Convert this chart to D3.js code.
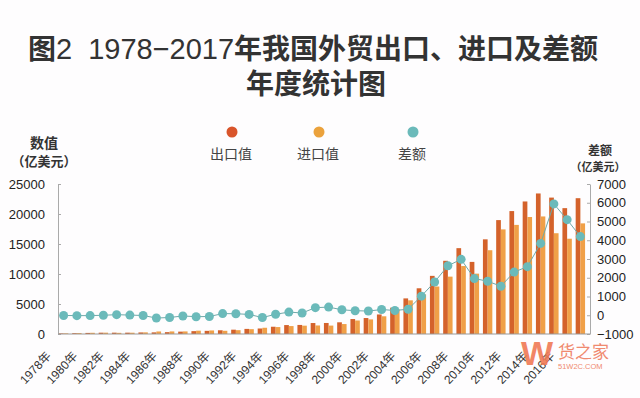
<!DOCTYPE html>
<html>
<head>
<meta charset="utf-8">
<script src="https://cdn.jsdelivr.net/npm/d3@7"></script>
<style>
  body { margin: 0; background: #fff; }
  svg { display: block; }
</style>
</head>
<body>
<svg id="chart"></svg>
<script>
// years shown on the x axis
const years = [1978, 1979, 1980, 1981, 1982, 1983, 1984, 1985, 1986, 1987,
  1988, 1989, 1990, 1991, 1992, 1993, 1994, 1995, 1996, 1997,
  1998, 1999, 2000, 2001, 2002, 2003, 2004, 2005, 2006, 2007,
  2008, 2009, 2010, 2011, 2012, 2013, 2014, 2015, 2016, 2017]

// 出口值 (亿美元)
const exportValues = [97.5, 136.6, 181.2, 220.1, 223.2, 222.3, 261.4, 273.5, 309.4, 394.4,
  475.2, 525.4, 620.9, 719.1, 849.4, 917.4, 1210.1, 1487.8, 1510.5, 1827.9,
  1837.1, 1949.3, 2492.0, 2661.0, 3256.0, 4382.3, 5933.3, 7619.5, 9689.8, 12200.6,
  14306.9, 12016.1, 15777.5, 18983.8, 20487.1, 22090.0, 23422.9, 22734.7, 20976.3, 22633.7]

// 进口值 (亿美元)
const importValues = [108.9, 156.7, 200.2, 220.2, 192.9, 213.9, 274.1, 422.5, 429.0, 432.2,
  552.7, 591.4, 533.5, 637.9, 805.9, 1039.6, 1156.1, 1320.8, 1388.3, 1423.7,
  1402.4, 1657.0, 2250.9, 2435.5, 2951.7, 4127.6, 5612.3, 6599.5, 7914.6, 9561.2,
  11325.6, 10059.2, 13962.4, 17434.8, 18184.1, 19499.9, 19592.4, 16795.6, 15879.3, 18437.9]

// 差额 (亿美元)
const balanceValues = [-11.4, -20.1, -19.0, -0.1, 30.4, 8.4, -12.7, -149.0, -119.6, -37.8,
  -77.5, -66.0, 87.4, 81.2, 43.5, -122.2, 54.0, 167.0, 122.2, 404.2,
  434.8, 292.3, 241.1, 225.5, 304.3, 254.7, 321.0, 1020.0, 1775.2, 2639.4,
  2981.3, 1956.9, 1815.1, 1549.0, 2303.1, 2590.1, 3830.6, 5939.0, 5097.1, 4195.8]

const leftTicks = [0, 5000, 10000, 15000, 20000, 25000]
const rightTicks = [-1000, 0, 1000, 2000, 3000, 4000, 5000, 6000, 7000]
const labelYears = [1978, 1980, 1982, 1984, 1986, 1988, 1990, 1992, 1994, 1996,
  1998, 2000, 2002, 2004, 2006, 2008, 2010, 2012, 2014, 2016]

const seriesNames = ['出口值', '进口值', '差额']

const WIDTH = 640
const HEIGHT = 398
const COLOR_EXPORT = '#d4622b'
const COLOR_IMPORT = '#f0a048'
const COLOR_BALANCE = '#6bbaba'
const CN_FONT = '"Liberation Sans", "Noto Sans CJK SC", sans-serif'

const svg = d3.select('#chart')
  .attr('width', WIDTH)
  .attr('height', HEIGHT)
  .style('font-family', CN_FONT)

svg.append('rect')
  .attr('width', WIDTH)
  .attr('height', HEIGHT)
  .attr('fill', '#fefdfe')

// Title - latin digits are lighter than the CJK glyphs in the reference
const title = svg.append('g')
  .attr('font-family', '"Noto Sans CJK SC", sans-serif')
  .attr('font-weight', 'bold')
  .attr('font-size', 28)
  .attr('fill', '#333')
  .attr('text-anchor', 'middle')
const line1 = title.append('text').attr('x', 313).attr('y', 59)
line1.append('tspan').text('图')
line1.append('tspan')
  .attr('font-family', '"Liberation Sans", Arial, sans-serif')
  .attr('font-weight', 'normal')
  .attr('font-size', 29)
  .text('2\u00a0\u00a01978−2017')
line1.append('tspan').text('年我国外贸出口、进口及差额')
title.append('text').attr('x', 316).attr('y', 94).text('年度统计图')

// Scales
const x = d3.scaleBand()
  .domain(years)
  .range([57, 587])

const yLeft = d3.scaleLinear()
  .domain([0, 25000])
  .range([334, 184])

const yRight = d3.scaleLinear()
  .domain([-1000, 7000])
  .range([334, 184])

const bw = x.bandwidth()
const barW = 4.7
const center = d => x(d) + bw / 2

// Bars: export on the left of the band centre, import on the right
const bars = svg.append('g')
bars.selectAll('rect.export')
  .data(years)
  .enter()
  .append('rect')
    .attr('class', 'export')
    .attr('x', d => center(d) - barW)
    .attr('y', (d, i) => yLeft(exportValues[i]))
    .attr('width', barW)
    .attr('height', (d, i) => yLeft(0) - yLeft(exportValues[i]))
    .attr('fill', COLOR_EXPORT)

bars.selectAll('rect.import')
  .data(years)
  .enter()
  .append('rect')
    .attr('class', 'import')
    .attr('x', d => center(d))
    .attr('y', (d, i) => yLeft(importValues[i]))
    .attr('width', barW)
    .attr('height', (d, i) => yLeft(0) - yLeft(importValues[i]))
    .attr('fill', COLOR_IMPORT)

// Axes
const axisFont = g => g.selectAll('text')
  .attr('font-family', '"Liberation Sans", Arial, sans-serif')
  .attr('font-size', 13)
  .attr('fill', '#222')

svg.append('g')
  .attr('transform', 'translate(58, 0)')
  .call(d3.axisLeft(yLeft).tickValues(leftTicks).tickSize(-3).tickSizeOuter(0).tickPadding(13).tickFormat(d3.format('d')))
  .call(axisFont)
  .call(g => g.selectAll('line, path').attr('stroke', '#aaa'))

svg.append('g')
  .attr('transform', 'translate(590, 0)')
  .call(d3.axisRight(yRight).tickValues(rightTicks).tickSize(-3).tickSizeOuter(0).tickPadding(7).tickFormat(d => d < 0 ? '−' + Math.abs(d) : d))
  .call(axisFont)
  .call(g => g.selectAll('line, path').attr('stroke', '#aaa'))

// x baseline
svg.append('line')
  .attr('x1', 58)
  .attr('x2', 590)
  .attr('y1', yLeft(0))
  .attr('y2', yLeft(0))
  .attr('stroke', '#999')

// x labels, rotated
svg.append('g')
  .selectAll('text')
  .data(labelYears)
  .enter()
  .append('text')
    .attr('transform', d => `translate(${center(d) - 12}, 356.5) rotate(-47)`)
    .attr('text-anchor', 'end')
    .attr('font-size', 12)
    .attr('fill', '#333')
    .text(d => d + '年')

// Balance line + dots
const line = d3.line()
  .x((d, i) => center(years[i]))
  .y(d => yRight(d))

svg.append('path')
  .datum(balanceValues)
  .attr('d', line)
  .attr('fill', 'none')
  .attr('stroke', '#6fa9a9')
  .attr('stroke-width', 1)

svg.append('g')
  .selectAll('circle')
  .data(balanceValues)
  .enter()
  .append('circle')
    .attr('cx', (d, i) => center(years[i]))
    .attr('cy', d => yRight(d))
    .attr('r', 4.5)
    .attr('fill', COLOR_BALANCE)

// Axis titles
const axisTitle = svg.append('g')
  .attr('font-family', '"Noto Sans CJK SC", sans-serif')
  .attr('font-weight', 'bold')
  .attr('fill', '#333')
  .attr('text-anchor', 'middle')
axisTitle.append('text').attr('x', 44).attr('y', 148).attr('font-size', 14).text('数值')
axisTitle.append('text').attr('x', 44).attr('y', 166).attr('font-size', 13).text('（亿美元）')
axisTitle.append('text').attr('x', 600).attr('y', 155).attr('font-size', 12).text('差额')
axisTitle.append('text').attr('x', 598).attr('y', 171).attr('font-size', 11).text('（亿美元）')

// Legend
const legendX = [232, 319, 413]
const legendColors = ['#d9552b', '#eba23c', COLOR_BALANCE]
const legend = svg.append('g')
  .selectAll('g')
  .data(seriesNames)
  .enter()
  .append('g')
    .attr('transform', (d, i) => `translate(${legendX[i]}, 0)`)
legend.append('circle')
  .attr('cy', 132)
  .attr('r', 5.5)
  .attr('fill', (d, i) => legendColors[i])
legend.append('text')
  .attr('x', -1)
  .attr('y', 159)
  .attr('text-anchor', 'middle')
  .attr('font-family', '"Noto Sans CJK SC", sans-serif')
  .attr('font-size', 14)
  .attr('fill', '#444')
  .text(d => d)

// watermark
const wm = svg.append('g').attr('font-family', '"Noto Sans CJK SC", sans-serif')
wm.append('text').attr('x', 537).attr('y', 365).attr('text-anchor', 'middle')
  .attr('font-family', '"Liberation Sans", sans-serif').attr('font-weight', 'bold')
  .attr('font-size', 34).attr('fill', '#f07a55').attr('opacity', 0.9).text('W')
wm.append('text').attr('x', 558).attr('y', 358).attr('font-size', 17).attr('fill', '#f08a70').text('货之家')
wm.append('text').attr('x', 558).attr('y', 369).attr('font-family', '"Liberation Sans", sans-serif')
  .attr('font-size', 7.5).attr('fill', '#f08a70').text('51W2C.COM')
</script>
</body>
</html>
